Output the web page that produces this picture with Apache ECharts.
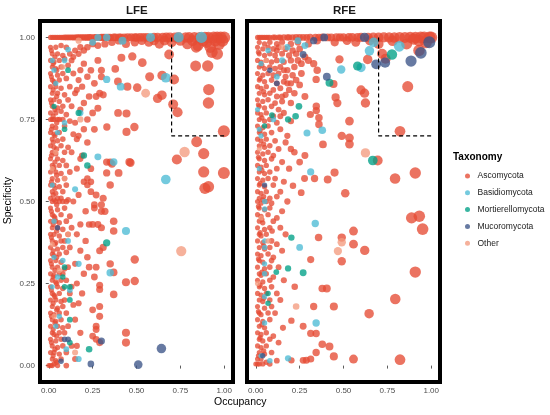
<!DOCTYPE html>
<html>
<head>
<meta charset="utf-8">
<script src="https://cdn.jsdelivr.net/npm/echarts@6/dist/echarts.min.js"></script>
<style>
  html, body { margin: 0; padding: 0; background: #fff; }
  #chart { width: 550px; height: 415px; }
</style>
</head>
<body>
<div id="chart"></div>
<script>
// taxa and colours (ggsci npg)
var taxa = ['Ascomycota', 'Basidiomycota', 'Mortierellomycota', 'Mucoromycota', 'Other'];
var colors = ['#E64B35', '#4DBBD5', '#00A087', '#3C5488', '#F39B7F'];
var tickValues = [0, 0.25, 0.5, 0.75, 1];

// dashed threshold box
var dashX = [0.7, 0.7, 1];
var dashY = [1, 0.7, 0.7];

// [occupancy, specificity]
var lfeAsco = [
  [0.01,1],[0.02,1],[0.03,1],[0.04,1],[0.05,1],[0.06,1],[0.07,1],[0.08,1],[0.09,1],[0.1,1],[0.11,1],[0.12,1],[0.13,1],[0.14,1],[0.15,1],[0.16,1],[0.17,1],[0.18,1],[0.19,1],[0.2,1],[0.21,1],[0.22,1],[0.23,1],[0.24,1],[0.26,1],[0.27,1],[0.29,1],[0.3,1],[0.31,1],[0.32,1],[0.34,1],[0.35,1],[0.37,1],[0.38,1],[0.4,1],[0.41,1],[0.43,1],[0.45,1],[0.47,1],[0.49,1],[0.5,1],[0.52,1],[0.54,1],[0.56,1],[0.6,1],[0.62,1],[0.65,1],[0.67,1],[0.69,1],[0.72,1],[0.74,1],[0.78,1],[0.8,1],[0.83,1],[0.86,1],[0.89,1],[0.91,1],[0.94,1],[0.96,1],[0.98,1],[1,1],
  [0.53,0.99],[0.57,0.985],[0.6,0.99],[0.63,0.98],[0.66,0.99],[0.7,0.985],[0.75,0.99],[0.79,0.98],[0.82,0.99],[0.85,0.975],[0.88,0.99],[0.9,0.985],[0.92,0.97],[0.95,0.99],[0.97,0.98],[0.99,0.99],[0.93,0.955],[0.96,0.95],[0.84,0.97],[0.49,0.985],[0.44,0.98],[0.4,0.99],[0.36,0.985],[0.32,0.98],[0.28,0.975],[0.25,0.98],[0.22,0.97],[0.2,0.96],[0.18,0.97],[0.17,0.95],[0.15,0.96],[0.14,0.94],[0.12,0.95],
  [0.912,0.841],[0.91,0.8],[0.998,0.714],[0.843,0.682],[0.883,0.646],[0.73,0.628],[0.883,0.59],[0.998,0.587],[0.89,0.54],[0.91,0.545],[0.906,0.913],[0.837,0.913],[0.686,0.948],[0.714,0.872],[0.646,0.884],[0.645,0.824],[0.709,0.796],[0.734,0.772],[0.62,0.814],[0.575,0.88],[0.504,0.847],[0.533,0.923],[0.414,0.938],[0.476,0.942],[0.448,0.85],[0.394,0.866],[0.379,0.904],[0.395,0.77],[0.443,0.768],[0.331,0.727],[0.443,0.712],[0.488,0.727],[0.31,0.825],[0.29,0.83],[0.27,0.82],[0.3,0.88],[0.28,0.93],[0.3,0.9],[0.28,0.784],[0.36,0.614],[0.398,0.587],[0.466,0.618],[0.33,0.587],[0.24,0.6],[0.24,0.56],[0.24,0.53],[0.27,0.52],[0.31,0.51],
  [0.01,0.97],[0.04,0.97],[0.07,0.975],[0.1,0.97],[0.02,0.95],[0.05,0.95],[0.08,0.945],[0.01,0.93],[0.03,0.925],[0.06,0.93],[0.09,0.935],[0.13,0.93],[0.02,0.91],[0.04,0.905],[0.07,0.91],[0.11,0.915],[0.01,0.89],[0.05,0.885],[0.08,0.89],[0.14,0.89],[0.02,0.87],[0.03,0.865],[0.06,0.87],[0.1,0.875],[0.17,0.87],[0.01,0.85],[0.04,0.85],[0.07,0.845],[0.12,0.85],[0.02,0.83],[0.05,0.83],[0.09,0.825],[0.15,0.83],[0.01,0.81],[0.03,0.81],[0.06,0.805],[0.11,0.81],[0.02,0.79],[0.05,0.785],[0.08,0.79],[0.13,0.79],[0.01,0.77],[0.04,0.77],[0.07,0.775],[0.1,0.765],
  [0.01,0.75],[0.02,0.75],[0.03,0.75],[0.05,0.75],[0.06,0.75],[0.08,0.75],[0.12,0.745],[0.02,0.73],[0.04,0.725],[0.09,0.73],[0.01,0.71],[0.03,0.705],[0.06,0.71],[0.14,0.705],[0.02,0.69],[0.05,0.685],[0.08,0.69],[0.16,0.69],[0.01,0.67],[0.03,0.665],[0.07,0.67],[0.11,0.665],[0.02,0.65],[0.04,0.645],[0.09,0.65],[0.13,0.65],[0.01,0.63],[0.05,0.63],[0.08,0.625],[0.18,0.63],[0.02,0.61],[0.03,0.605],[0.06,0.61],[0.1,0.61],[0.01,0.59],[0.04,0.59],[0.07,0.585],[0.12,0.59],[0.02,0.57],[0.05,0.565],[0.09,0.57],[0.01,0.55],[0.03,0.55],[0.06,0.545],[0.1,0.55],[0.02,0.53],[0.04,0.525],[0.08,0.53],
  [0.01,0.51],[0.03,0.505],[0.05,0.51],[0.07,0.51],[0.11,0.505],[0.02,0.5],[0.04,0.5],[0.06,0.5],[0.08,0.5],[0.1,0.5],[0.14,0.5],[0.01,0.48],[0.05,0.475],[0.09,0.48],[0.02,0.46],[0.03,0.455],[0.07,0.46],[0.12,0.455],[0.01,0.44],[0.04,0.44],[0.06,0.435],[0.1,0.44],[0.02,0.42],[0.05,0.42],[0.08,0.415],[0.13,0.42],[0.01,0.4],[0.03,0.4],[0.06,0.395],[0.11,0.4],[0.02,0.38],[0.04,0.375],[0.07,0.38],[0.09,0.38],[0.01,0.36],[0.05,0.355],[0.08,0.36],[0.12,0.36],[0.02,0.34],[0.03,0.335],[0.06,0.34],[0.1,0.345],[0.01,0.32],[0.04,0.32],[0.07,0.315],
  [0.02,0.3],[0.05,0.3],[0.09,0.295],[0.11,0.3],[0.01,0.28],[0.03,0.275],[0.06,0.28],[0.08,0.28],[0.02,0.26],[0.04,0.255],[0.07,0.26],[0.1,0.26],[0.01,0.24],[0.05,0.24],[0.08,0.235],[0.13,0.24],[0.02,0.22],[0.03,0.215],[0.06,0.22],[0.12,0.22],[0.01,0.2],[0.04,0.2],[0.07,0.195],[0.09,0.2],[0.02,0.18],[0.05,0.175],[0.08,0.18],[0.14,0.185],[0.01,0.16],[0.03,0.155],[0.06,0.16],[0.1,0.16],[0.02,0.14],[0.04,0.135],[0.07,0.14],[0.01,0.12],[0.05,0.12],[0.08,0.115],[0.11,0.12],[0.02,0.1],[0.03,0.095],[0.06,0.1],[0.09,0.1],[0.01,0.08],[0.04,0.075],[0.07,0.08],[0.02,0.06],[0.05,0.055],[0.08,0.06],[0.13,0.06],[0.01,0.04],[0.03,0.04],[0.06,0.035],[0.1,0.04],[0.02,0.02],[0.04,0.015],[0.07,0.02],[0,0],[0.01,0],[0.02,0],[0.03,0.005],[0.05,0],[0.1,0],
  [0.015,0.96],[0.035,0.94],[0.025,0.92],[0.045,0.9],[0.015,0.88],[0.035,0.86],[0.025,0.84],[0.045,0.82],[0.015,0.8],[0.035,0.78],[0.025,0.76],[0.045,0.74],[0.015,0.72],[0.035,0.7],[0.025,0.68],[0.045,0.66],[0.015,0.64],[0.035,0.62],[0.025,0.6],[0.045,0.58],[0.015,0.56],[0.035,0.54],[0.025,0.52],[0.045,0.49],[0.015,0.47],[0.035,0.45],[0.025,0.43],[0.045,0.41],[0.015,0.39],[0.035,0.37],[0.025,0.35],[0.045,0.33],[0.015,0.31],[0.035,0.29],[0.025,0.27],[0.045,0.25],[0.015,0.23],[0.035,0.21],[0.025,0.19],[0.045,0.17],[0.015,0.15],[0.035,0.13],[0.025,0.11],[0.045,0.09],[0.015,0.07],[0.035,0.05],[0.025,0.03],[0.045,0.01],
  [0.17,0.7],[0.2,0.72],[0.22,0.68],[0.19,0.64],[0.16,0.6],[0.2,0.56],[0.17,0.52],[0.21,0.47],[0.18,0.43],[0.16,0.4],[0.21,0.38],[0.18,0.35],[0.15,0.31],[0.2,0.28],[0.16,0.25],[0.19,0.22],[0.17,0.19],[0.15,0.14],[0.18,0.1],[0.16,0.06],[0.15,0.02],[0.2,0.92],[0.22,0.88],[0.19,0.85],[0.24,0.9],[0.26,0.86],[0.23,0.82],[0.2,0.8],[0.25,0.77],[0.22,0.75],[0.26,0.72],[0.18,0.9],[0.16,0.84],[0.18,0.78],[0.15,0.74],
  [0.26,0.48],[0.3,0.47],[0.32,0.47],[0.37,0.44],[0.37,0.41],[0.23,0.43],[0.25,0.43],[0.28,0.43],[0.3,0.42],[0.31,0.36],[0.29,0.35],[0.35,0.31],[0.49,0.323],[0.37,0.284],[0.27,0.3],[0.26,0.27],[0.44,0.254],[0.49,0.258],[0.37,0.217],[0.29,0.245],[0.29,0.232],[0.29,0.18],[0.29,0.15],[0.25,0.17],[0.27,0.12],[0.27,0.11],[0.25,0.09],[0.44,0.1],[0.44,0.07],[0.29,0.07],[0.27,0.08],[0.22,0.33],[0.23,0.3],[0.22,0.55],[0.22,0.57],[0.35,0.55],[0.35,0.62],[0.33,0.62],[0.46,0.62],[0.26,0.49],[0.3,0.49]
];
var lfeBasid = [
  [0.28,1],[0.33,1],[0.42,0.99],[0.58,1],[0.74,1],[0.87,1],[0.25,0.985],[0.11,0.963],[0.09,0.93],[0.02,0.93],[0.03,0.9],[0.04,0.86],[0.33,0.872],[0.41,0.85],[0.667,0.877],[0.09,0.74],[0.18,0.77],[0.05,0.71],[0.28,0.636],[0.37,0.62],[0.667,0.567],[0.15,0.537],[0.44,0.41],[0.35,0.283],[0.17,0.31],[0.17,0.02],[0.02,0.55],[0.03,0.44],[0.11,0.38],[0.08,0.32],[0.05,0.27],[0.02,0.24],[0.04,0.12],[0.1,0.05],[0.03,0.33],[0.06,0.15],[0.12,0.23]
];
var lfeMort = [
  [0.11,0.9],[0.03,0.79],[0.17,0.77],[0.09,0.72],[0.2,0.64],[0.22,0.61],[0.33,0.374],[0.23,0.05],[0.12,0.07],[0.12,0.2],[0.09,0.3],[0.09,0.24],[0.12,0.24],[0.12,0.14],[0.08,0.27]
];
var lfeMucor = [
  [0.642,0.052],[0.51,0.003],[0.24,0.005],[0.3,0.075],[0.11,0.08],[0.07,0.013],[0.05,0.42],[0.09,0.08]
];
var lfeOther = [
  [0.08,0.91],[0.552,0.83],[0.18,0.75],[0.774,0.651],[0.755,0.349],[0.17,0.99],[0.09,0.57],[0.02,0.6],[0.04,0.65],[0.02,0.37],[0.06,0.29],[0.03,0.15],[0.11,0.4],[0.15,0.04]
];

var rfeAsco = [
  [0.01,1],[0.02,1],[0.03,1],[0.04,1],[0.05,1],[0.06,1],[0.07,1],[0.08,1],[0.1,1],[0.11,1],[0.13,1],[0.14,1],[0.16,1],[0.18,1],[0.19,1],[0.21,1],[0.23,1],[0.25,1],[0.27,1],[0.29,1],[0.31,1],[0.34,1],[0.36,1],[0.38,1],[0.41,1],[0.43,1],[0.46,1],[0.48,1],[0.5,1],[0.53,1],[0.55,1],[0.58,1],[0.6,1],[0.64,1],[0.67,1],[0.7,1],[0.73,1],[0.76,1],[0.79,1],[0.82,1],[0.85,1],[0.88,1],[0.91,1],[0.94,1],[0.96,1],[0.99,1],[1,1],[0.93,0.99],[0.97,0.985],[0.9,0.995],
  [0.02,0.985],[0.05,0.98],[0.08,0.985],[0.12,0.98],[0.15,0.985],[0.2,0.98],[0.24,0.985],[0.3,0.98],[0.35,0.99],[0.45,0.985],[0.52,0.99],[0.57,0.985],[0.65,0.99],[0.7,0.98],[0.78,0.99],[0.86,0.98],[0.93,0.96],[0.72,0.95],[0.74,0.935],[0.638,0.933],
  [0.01,0.97],[0.04,0.965],[0.07,0.97],[0.1,0.965],[0.13,0.97],[0.17,0.965],[0.21,0.96],[0.25,0.965],[0.02,0.95],[0.05,0.945],[0.08,0.95],[0.11,0.945],[0.15,0.95],[0.19,0.945],[0.23,0.95],[0.28,0.94],[0.01,0.93],[0.03,0.925],[0.06,0.93],[0.09,0.925],[0.12,0.93],[0.16,0.925],[0.2,0.93],[0.26,0.92],[0.3,0.93],[0.33,0.92],[0.02,0.91],[0.05,0.905],[0.08,0.91],[0.11,0.905],[0.14,0.91],[0.18,0.9],[0.22,0.91],[0.35,0.9],[0.477,0.933],
  [0.01,0.89],[0.04,0.885],[0.07,0.89],[0.1,0.885],[0.13,0.89],[0.17,0.88],[0.21,0.885],[0.344,0.872],[0.02,0.87],[0.05,0.865],[0.09,0.87],[0.12,0.86],[0.16,0.865],[0.2,0.86],[0.25,0.855],[0.01,0.85],[0.03,0.845],[0.06,0.85],[0.1,0.84],[0.14,0.845],[0.19,0.84],[0.443,0.858],[0.02,0.83],[0.05,0.825],[0.08,0.83],[0.12,0.82],[0.17,0.825],[0.22,0.83],[0.28,0.82],[0.455,0.817],[0.465,0.8],[0.6,0.84],[0.62,0.83],[0.625,0.8],[0.866,0.85],
  [0.01,0.81],[0.04,0.805],[0.07,0.81],[0.11,0.8],[0.15,0.805],[0.2,0.8],[0.02,0.79],[0.05,0.785],[0.09,0.79],[0.13,0.78],[0.345,0.79],[0.345,0.777],[0.01,0.77],[0.03,0.765],[0.06,0.77],[0.1,0.76],[0.16,0.77],[0.311,0.765],[0.36,0.755],[0.36,0.735],[0.02,0.75],[0.05,0.745],[0.08,0.75],[0.12,0.74],[0.2,0.745],[0.534,0.745],[0.01,0.73],[0.04,0.725],[0.07,0.73],[0.14,0.72],[0.822,0.714],
  [0.02,0.71],[0.05,0.705],[0.09,0.71],[0.18,0.7],[0.49,0.7],[0.534,0.694],[0.534,0.675],[0.383,0.674],[0.01,0.69],[0.03,0.685],[0.06,0.69],[0.11,0.685],[0.02,0.67],[0.05,0.665],[0.08,0.67],[0.13,0.66],[0.22,0.65],[0.01,0.65],[0.04,0.645],[0.07,0.65],[0.1,0.64],[0.28,0.64],[0.02,0.63],[0.05,0.625],[0.09,0.63],[0.15,0.62],[0.695,0.625],[0.25,0.62],[0.01,0.61],[0.03,0.605],[0.06,0.61],[0.12,0.6],[0.19,0.6],
  [0.02,0.59],[0.05,0.585],[0.08,0.59],[0.449,0.588],[0.909,0.587],[0.794,0.57],[0.01,0.57],[0.04,0.565],[0.07,0.57],[0.41,0.567],[0.335,0.57],[0.278,0.57],[0.02,0.55],[0.05,0.545],[0.1,0.55],[0.212,0.548],[0.01,0.53],[0.03,0.525],[0.06,0.53],[0.259,0.527],[0.51,0.525],[0.14,0.53],[0.02,0.51],[0.04,0.505],[0.08,0.51],[0.12,0.515],
  [0.01,0.5],[0.03,0.495],[0.06,0.5],[0.09,0.495],[0.18,0.5],[0.02,0.48],[0.05,0.475],[0.08,0.48],[0.15,0.47],[0.932,0.455],[0.888,0.45],[0.01,0.46],[0.03,0.455],[0.07,0.46],[0.12,0.45],[0.02,0.44],[0.04,0.435],[0.1,0.44],[0.951,0.416],[0.01,0.42],[0.05,0.415],[0.08,0.42],[0.093,0.41],[0.557,0.41],[0.14,0.42],[0.02,0.4],[0.03,0.395],[0.06,0.4],[0.49,0.39],[0.358,0.39],[0.17,0.4],[0.01,0.38],[0.04,0.375],[0.09,0.38],[0.557,0.37],[0.621,0.351],[0.12,0.37],[0.02,0.36],[0.05,0.355],[0.08,0.36],[0.15,0.35],
  [0.01,0.34],[0.03,0.335],[0.07,0.34],[0.1,0.33],[0.49,0.318],[0.313,0.323],[0.02,0.32],[0.04,0.315],[0.09,0.32],[0.01,0.3],[0.05,0.295],[0.08,0.3],[0.13,0.3],[0.909,0.285],[0.02,0.28],[0.03,0.275],[0.06,0.28],[0.1,0.27],[0.01,0.26],[0.04,0.255],[0.08,0.26],[0.16,0.26],[0.02,0.24],[0.05,0.235],[0.09,0.24],[0.222,0.24],[0.379,0.235],[0.405,0.235],[0.01,0.22],[0.03,0.215],[0.06,0.22],[0.12,0.22],[0.02,0.2],[0.04,0.195],[0.08,0.2],[0.795,0.203],[0.14,0.2],
  [0.01,0.18],[0.05,0.175],[0.09,0.18],[0.445,0.18],[0.33,0.18],[0.02,0.16],[0.03,0.155],[0.07,0.16],[0.646,0.158],[0.11,0.16],[0.01,0.14],[0.04,0.135],[0.08,0.14],[0.203,0.137],[0.02,0.12],[0.05,0.115],[0.155,0.115],[0.27,0.12],[0.01,0.1],[0.03,0.095],[0.06,0.1],[0.313,0.098],[0.344,0.098],[0.1,0.09],[0.02,0.08],[0.04,0.075],[0.08,0.08],[0.01,0.06],[0.03,0.055],[0.06,0.06],[0.379,0.065],[0.42,0.058],[0.13,0.07],[0.02,0.04],[0.05,0.035],[0.344,0.04],[0.09,0.04],
  [0.01,0.02],[0.03,0.02],[0.445,0.028],[0.557,0.02],[0.822,0.018],[0.313,0.02],[0.288,0.016],[0.27,0.016],[0.203,0.016],[0.12,0.015],[0,0.005],[0.01,0.005],[0.02,0.005],[0.04,0.005],[0.06,0.01],[0.08,0.005],
  [0.015,0.955],[0.035,0.915],[0.025,0.875],[0.045,0.835],[0.015,0.795],[0.035,0.755],[0.025,0.715],[0.045,0.675],[0.015,0.635],[0.035,0.595],[0.025,0.555],[0.045,0.515],[0.015,0.485],[0.035,0.445],[0.025,0.405],[0.045,0.365],[0.015,0.325],[0.035,0.285],[0.025,0.245],[0.045,0.205],[0.015,0.165],[0.035,0.125],[0.025,0.085],[0.045,0.045],[0.015,0.03],[0.12,0.96],[0.16,0.9],[0.24,0.93],[0.18,0.86],[0.23,0.87],[0.15,0.82],[0.26,0.89],[0.14,0.76],[0.17,0.68],[0.2,0.66],[0.11,0.57],[0.16,0.56]
];
var rfeBasid = [
  [0.818,0.973],[0.648,0.959],[0.672,0.985],[0.6,0.908],[0.487,0.902],[0.379,0.717],[0.292,0.709],[0.313,0.59],[0.339,0.433],[0.25,0.36],[0.344,0.13],[0.184,0.022],[0.051,0.5],[0.051,0.477],[0.051,0.38],[0.051,0.36],[0.05,0.31],[0.05,0.28],[0.05,0.21],[0.05,0.13],[0.03,0.03],[0.08,0.015],[0.02,0.72],[0.03,0.7],[0.01,0.78],[0.03,0.92],[0.07,0.96],[0.15,0.93],[0.12,0.88],[0.24,0.99],[0.02,0.6],[0.1,0.75],[0.18,0.97],[0.28,0.975]
];
var rfeMort = [
  [0.776,0.948],[0.58,0.913],[0.42,0.862],[0.667,0.625],[0.227,0.76],[0.184,0.75],[0.246,0.79],[0.092,0.763],[0.27,0.283],[0.184,0.296],[0.117,0.285],[0.203,0.39],[0.07,0.22],[0.07,0.19],[0.05,0.73]
];
var rfeMucor = [
  [0.989,0.985],[0.941,0.953],[0.885,0.928],[0.737,0.923],[0.686,0.918],[0.62,1],[0.405,0.88],[0.27,0.948],[0.33,0.99],[0.39,1],[0.12,0.86],[0.05,0.55],[0.04,0.03],[0.08,0.9]
];
var rfeOther = [
  [0.625,0.648],[0.49,0.376],[0.468,0.349],[0.23,0.18],[0.07,0.38],[0.02,0.66],[0.03,0.45],[0.06,0.93],[0.01,0.25],[0.15,0.97]
];

var panels = [
  [lfeAsco, lfeBasid, lfeMort, lfeMucor, lfeOther],
  [rfeAsco, rfeBasid, rfeMort, rfeMucor, rfeOther]
];

var chart = echarts.init(document.getElementById('chart'), null, { renderer: 'canvas' });

var font = 'Liberation Sans, Arial, sans-serif';
var labelFont = { fontFamily: font, fontSize: 8, color: '#4D4D4D' };

function makeX(i) {
  return {
    type: 'value', gridIndex: i, min: -0.05, max: 1.05,
    axisLine: { show: false },
    splitLine: { show: false },
    axisTick: { show: true, customValues: tickValues, length: 3, lineStyle: { color: '#333', width: 0.8 } },
    axisLabel: Object.assign({ customValues: tickValues, margin: 5, formatter: function (v) { return v.toFixed(2); } }, labelFont)
  };
}
function makeY(i) {
  return {
    type: 'value', gridIndex: i, min: -0.05, max: 1.05,
    axisLine: { show: false },
    splitLine: { show: false },
    axisTick: { show: i === 0, customValues: tickValues, length: 3, lineStyle: { color: '#333', width: 0.8 } },
    axisLabel: Object.assign({ show: i === 0, customValues: tickValues, margin: 5, formatter: function (v) { return v.toFixed(2); } }, labelFont)
  };
}

var series = [];
panels.forEach(function (sets, p) {
  sets.forEach(function (pts, t) {
    series.push({
      name: taxa[t],
      type: 'scatter',
      xAxisIndex: p, yAxisIndex: p,
      data: pts,
      // point size grows with occupancy
      symbolSize: function (v) { return 5 + 7 * v[0]; },
      itemStyle: { color: colors[t], opacity: 0.78 },
      emphasis: { disabled: true },
      z: 2 + t
    });
  });
  series.push({
    type: 'line',
    xAxisIndex: p, yAxisIndex: p,
    data: dashX.map(function (x, k) { return [x, dashY[k]]; }),
    symbol: 'none',
    lineStyle: { color: '#000', width: 1.2, type: [4, 3] },
    z: 10,
    silent: true
  });
});

option = {
  animation: false,
  textStyle: { fontFamily: font },
  grid: [
    { left: 40, top: 21, width: 193, height: 361, show: true, borderColor: '#000', borderWidth: 4, backgroundColor: '#fff' },
    { left: 247, top: 21, width: 193, height: 361, show: true, borderColor: '#000', borderWidth: 4, backgroundColor: '#fff' }
  ],
  xAxis: [makeX(0), makeX(1)],
  yAxis: [makeY(0), makeY(1)],
  legend: {
    data: taxa,
    orient: 'vertical',
    left: 460, top: 166,
    icon: 'circle',
    itemWidth: 10, itemHeight: 5,
    itemGap: 6.8,
    textStyle: { fontSize: 8.5, lineHeight: 10, color: '#1a1a1a', fontFamily: font },
    selectedMode: false
  },
  graphic: [
    { type: 'text', left: 126, top: 5, style: { text: 'LFE', font: 'bold 11.5px ' + font, fill: '#1a1a1a' } },
    { type: 'text', left: 333, top: 5, style: { text: 'RFE', font: 'bold 11.5px ' + font, fill: '#1a1a1a' } },
    { type: 'text', left: 453, top: 152, style: { text: 'Taxonomy', font: 'bold 10px ' + font, fill: '#000' } },
    { type: 'text', left: 214, top: 397, style: { text: 'Occupancy', font: '10.5px ' + font, fill: '#000' } },
    { type: 'text', left: 3, top: 177, rotation: Math.PI / 2, style: { text: 'Specificity', font: '10.5px ' + font, fill: '#000' } }
  ],
  series: series
};

chart.setOption(option);
</script>
</body>
</html>
